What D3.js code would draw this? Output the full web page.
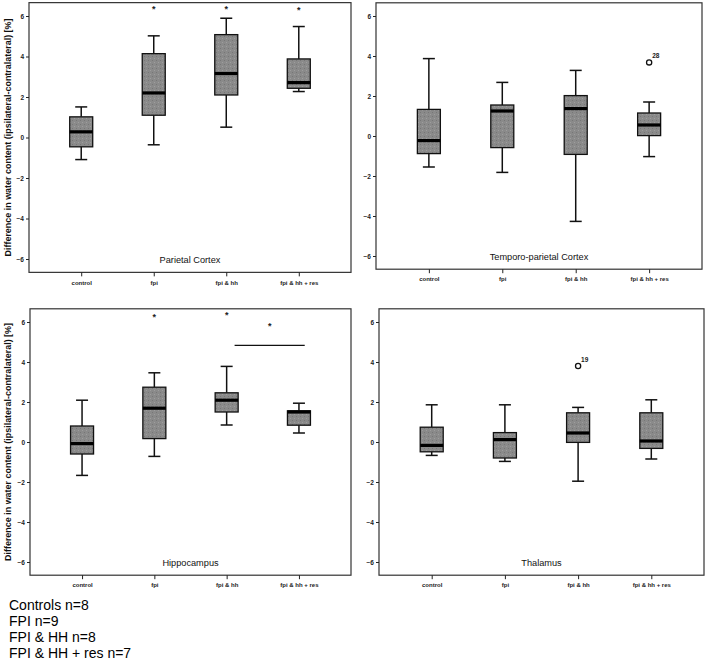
<!DOCTYPE html>
<html><head><meta charset="utf-8">
<script src="https://cdn.jsdelivr.net/npm/d3@7"></script>
<style>
html,body{margin:0;padding:0;background:#fff;}
svg{display:block;font-family:"Liberation Sans",Arial,sans-serif;}
</style></head>
<body>
<svg id="chart" width="710" height="662"></svg>
<script>
// ---------- data ----------
const categories = ["control", "fpi", "fpi & hh", "fpi & hh + res"];
const regionNames = ["Parietal Cortex", "Temporo-parietal Cortex", "Hippocampus", "Thalamus"];
const yTicks = [-6, -4, -2, 0, 2, 4, 6];
const yLabel = "Difference in water content (ipsilateral-contralateral) [%]";

// [whisker low, Q1, median, Q3, whisker high] per category
const parietalStats = [[-1.09, -0.46, 0.28, 1.02, 1.51], [-0.36, 1.10, 2.20, 4.14, 5.02], [0.51, 2.10, 3.16, 5.08, 5.89], [2.27, 2.43, 2.71, 3.88, 5.48]];
const temporoStats = [[-1.55, -0.88, -0.23, 1.33, 3.87], [-1.82, -0.58, 1.25, 1.55, 2.68], [-4.27, -0.92, 1.37, 2.02, 3.28], [-1.03, 0.02, 0.55, 1.15, 1.70]];
const hippocampusStats = [[-1.67, -0.60, -0.08, 0.80, 2.09], [-0.72, 0.17, 1.69, 2.74, 3.46], [0.85, 1.50, 2.09, 2.46, 3.78], [0.45, 0.84, 1.50, 1.56, 1.94]];
const thalamusStats = [[-0.67, -0.49, -0.17, 0.74, 1.86], [-0.97, -0.80, 0.12, 0.47, 1.86], [-1.96, -0.02, 0.45, 1.46, 1.73], [-0.85, -0.32, 0.05, 1.46, 2.11]];

// significance asterisks (value per category, null = none)
const parietalStars = [null, 6.41, 6.38, 6.35];
const temporoStars = [null, null, null, null];
const hippocampusStars = [null, 6.32, 6.40, null];
const thalamusStars = [null, null, null, null];

// outliers
const temporoOutliers = [{cat: "fpi & hh + res", value: 3.68, label: "28"}];
const thalamusOutliers = [{cat: "fpi & hh", value: 3.80, label: "19"}];

// hippocampus comparison bracket (fpi & hh vs fpi & hh + res)
const hippoBracket = {from: "fpi & hh", to: "fpi & hh + res", fromOffset: 0.11, toOffset: 0.08, value: 4.83, star: 5.87};

const legendLines = ["Controls n=8", "FPI n=9", "FPI & HH n=8", "FPI & HH + res n=7"];

// ---------- layout ----------
const svg = d3.select("#chart");
const panels = [
  {name: regionNames[0], stats: parietalStats, stars: parietalStars, outliers: [], x0: 29, x1: 351, yTop: 16, yBot: 259, ylab: true},
  {name: regionNames[1], stats: temporoStats, stars: temporoStars, outliers: temporoOutliers, x0: 376, x1: 702, yTop: 16, yBot: 256, ylab: false},
  {name: regionNames[2], stats: hippocampusStats, stars: hippocampusStars, outliers: [], x0: 30, x1: 351, yTop: 322, yBot: 562, ylab: true, bracket: hippoBracket},
  {name: regionNames[3], stats: thalamusStats, stars: thalamusStars, outliers: thalamusOutliers, x0: 379, x1: 704, yTop: 322, yBot: 562, ylab: false}
];

const boxFill = "#8a8a8a";

// stipple pattern for box texture
const defs = svg.append("defs");
const pat = defs.append("pattern").attr("id", "stip").attr("width", 4).attr("height", 4).attr("patternUnits", "userSpaceOnUse");
pat.append("rect").attr("width", 4).attr("height", 4).attr("fill", boxFill);
pat.append("rect").attr("x", 0).attr("y", 0).attr("width", 1).attr("height", 1).attr("fill", "#767676");
pat.append("rect").attr("x", 2).attr("y", 2).attr("width", 1).attr("height", 1).attr("fill", "#9e9e9e");

panels.forEach(p => {
  const y = d3.scaleLinear().domain([-6, 6]).range([p.yBot, p.yTop]);
  const x = d3.scalePoint().domain(categories).range([p.x0, p.x1]).padding(0.72);
  const step = x.step();
  const fTop = y(6.66), fBot = y(-6.66);
  const g = svg.append("g");

  // frame
  g.append("rect").attr("x", p.x0).attr("y", fTop).attr("width", p.x1 - p.x0).attr("height", fBot - fTop)
    .attr("fill", "none").attr("stroke", "#333").attr("stroke-width", 1.2);

  // y axis
  const yAxis = d3.axisLeft(y).tickValues(yTicks).tickSize(3).tickPadding(2).tickFormat(d3.format("d"));
  const ya = g.append("g").attr("transform", `translate(${p.x0},0)`).call(yAxis);
  ya.select(".domain").remove();
  ya.selectAll("line").attr("stroke", "#222").attr("stroke-width", 1);
  ya.selectAll("text").attr("font-size", 6.5).attr("font-weight", "bold").attr("fill", "#222")
    .attr("font-family", "Liberation Sans, Arial, sans-serif");

  // x axis
  const xAxis = d3.axisBottom(x).tickSize(4).tickPadding(4);
  const xa = g.append("g").attr("transform", `translate(0,${fBot})`).call(xAxis);
  xa.select(".domain").remove();
  xa.selectAll("line").attr("stroke", "#222").attr("stroke-width", 1);
  xa.selectAll("text").attr("font-size", 6).attr("font-weight", "bold").attr("fill", "#222")
    .attr("font-family", "Liberation Sans, Arial, sans-serif");

  // y label
  if (p.ylab) {
    const cy = y(0);
    g.append("text").attr("transform", `translate(11,${cy}) rotate(-90)`).attr("text-anchor", "middle")
      .attr("font-size", 8.6).attr("font-weight", "bold").attr("fill", "#111")
      .attr("textLength", 238).attr("lengthAdjust", "spacingAndGlyphs").text(yLabel);
  }

  // title
  g.append("text").attr("x", (p.x0 + p.x1) / 2).attr("y", y(-6) + 3.5).attr("text-anchor", "middle")
    .attr("font-size", 9.2).attr("fill", "#111").text(p.name);

  const bw = 23, cw = 12;
  categories.forEach((c, i) => {
    const [lo, q1, med, q3, hi] = p.stats[i];
    const cx = x(c);
    // whiskers
    g.append("line").attr("x1", cx).attr("x2", cx).attr("y1", y(hi)).attr("y2", y(q3)).attr("stroke", "#111").attr("stroke-width", 1.5);
    g.append("line").attr("x1", cx).attr("x2", cx).attr("y1", y(q1)).attr("y2", y(lo)).attr("stroke", "#111").attr("stroke-width", 1.5);
    g.append("line").attr("x1", cx - cw / 2).attr("x2", cx + cw / 2).attr("y1", y(hi)).attr("y2", y(hi)).attr("stroke", "#111").attr("stroke-width", 1.5);
    g.append("line").attr("x1", cx - cw / 2).attr("x2", cx + cw / 2).attr("y1", y(lo)).attr("y2", y(lo)).attr("stroke", "#111").attr("stroke-width", 1.5);
    // box
    g.append("rect").attr("x", cx - bw / 2).attr("y", y(q3)).attr("width", bw).attr("height", y(q1) - y(q3))
      .attr("fill", "url(#stip)").attr("stroke", "#111").attr("stroke-width", 1.3);
    // median
    g.append("line").attr("x1", cx - bw / 2).attr("x2", cx + bw / 2).attr("y1", y(med)).attr("y2", y(med))
      .attr("stroke", "#000").attr("stroke-width", 3.2);
    // star
    if (p.stars[i] !== null) {
      g.append("text").attr("x", cx).attr("y", y(p.stars[i]) + 4).attr("text-anchor", "middle")
        .attr("font-size", 9).attr("font-weight", "bold").attr("fill", "#222").text("*");
    }
  });

  // outliers
  p.outliers.forEach(o => {
    const cx = x(o.cat), cy = y(o.value);
    g.append("circle").attr("cx", cx).attr("cy", cy).attr("r", 2.6).attr("fill", "#fff").attr("stroke", "#111").attr("stroke-width", 1.3);
    g.append("text").attr("x", cx + 3).attr("y", cy - 4).attr("font-size", 6.5).attr("font-weight", "bold").attr("fill", "#222").text(o.label);
  });

  // bracket
  if (p.bracket) {
    const b = p.bracket;
    const bx1 = x(b.from) + b.fromOffset * step, bx2 = x(b.to) + b.toOffset * step;
    g.append("line").attr("x1", bx1).attr("x2", bx2).attr("y1", y(b.value)).attr("y2", y(b.value))
      .attr("stroke", "#111").attr("stroke-width", 1.3);
    g.append("text").attr("x", (bx1 + bx2) / 2).attr("y", y(b.star) + 4).attr("text-anchor", "middle")
      .attr("font-size", 9).attr("font-weight", "bold").attr("fill", "#222").text("*");
  }
});

// legend text
svg.append("g").selectAll("text").data(legendLines).join("text")
  .attr("x", 9).attr("y", (d, i) => 610 + i * 16)
  .attr("font-size", 14).attr("fill", "#000").text(d => d);
</script>
</body></html>
